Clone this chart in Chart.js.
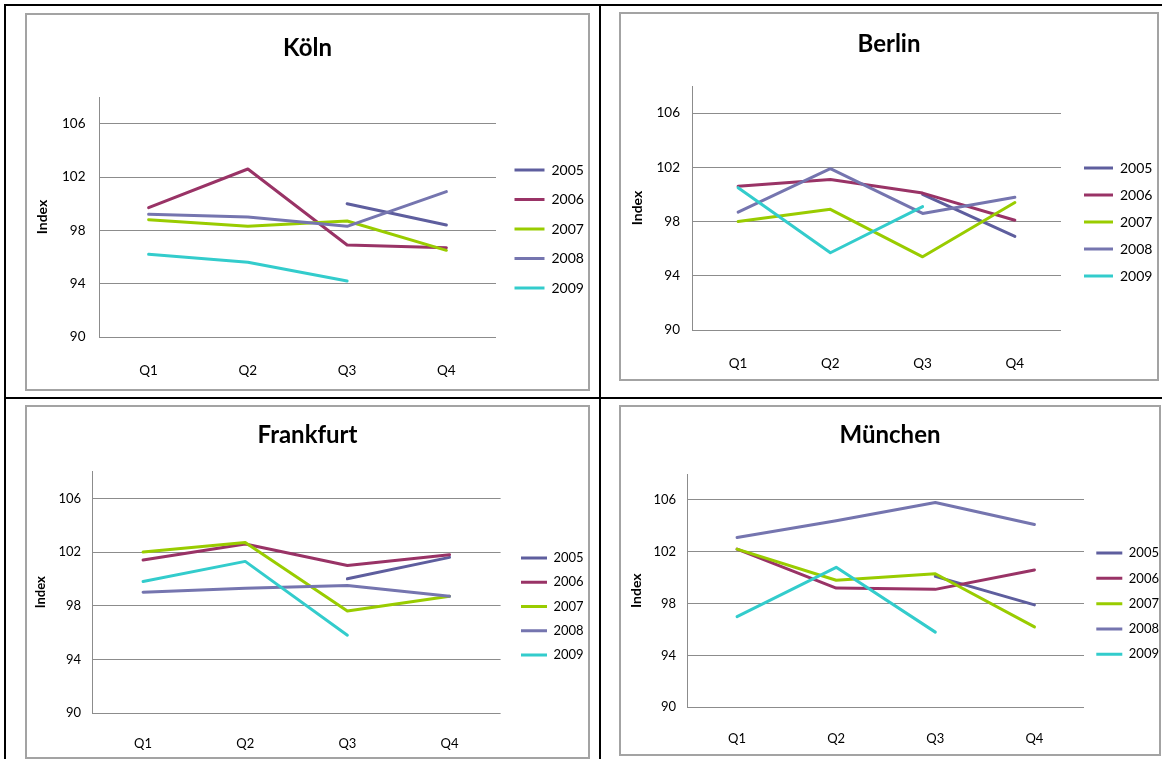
<!DOCTYPE html>
<html lang="de">
<head>
<meta charset="utf-8">
<title>Mietindex nach Quartalen</title>
<script src="https://cdn.jsdelivr.net/npm/chart.js@4.4.1/dist/chart.umd.min.js"></script>
<style>
  html, body { margin: 0; padding: 0; background: #fff; }
  body { width: 1162px; height: 759px; position: relative; overflow: hidden; font-family: Lato, "Open Sans", sans-serif; }
  .rule { position: absolute; background: #000; }
  .box { position: absolute; box-sizing: border-box; border: 2px solid #a3a3a3; background: #fff; }
  .box canvas { display: block; }
</style>
</head>
<body>
<div class="rule" style="left:4px;top:4px;width:1158px;height:2px"></div>
<div class="rule" style="left:4px;top:4px;width:2px;height:755px"></div>
<div class="rule" style="left:599px;top:4px;width:2px;height:755px"></div>
<div class="rule" style="left:4px;top:397px;width:1158px;height:2px"></div>

<div class="box" id="b0" style="left:25px;top:13px;width:565px;height:378px"><canvas id="c0"></canvas></div>
<div class="box" id="b1" style="left:619px;top:12px;width:540px;height:369px"><canvas id="c1"></canvas></div>
<div class="box" id="b2" style="left:25px;top:405px;width:565px;height:354px"><canvas id="c2"></canvas></div>
<div class="box" id="b3" style="left:619px;top:405px;width:542px;height:351px"><canvas id="c3"></canvas></div>

<script>
// Categories and series
const quarters = ['Q1', 'Q2', 'Q3', 'Q4'];
const years = ['2005', '2006', '2007', '2008', '2009'];
const cities = ['Köln', 'Berlin', 'Frankfurt', 'München'];
const yTicks = [90, 94, 98, 102, 106];
const yMin = 90;
const yMax = 108;

// Köln
const koeln2005 = [null, null, 100.0, 98.4];
const koeln2006 = [99.7, 102.6, 96.9, 96.7];
const koeln2007 = [98.8, 98.3, 98.7, 96.5];
const koeln2008 = [99.2, 99.0, 98.3, 100.9];
const koeln2009 = [96.2, 95.6, 94.2, null];

// Berlin
const berlin2005 = [null, null, 100.0, 96.9];
const berlin2006 = [100.6, 101.1, 100.1, 98.1];
const berlin2007 = [98.0, 98.9, 95.4, 99.4];
const berlin2008 = [98.7, 101.9, 98.6, 99.8];
const berlin2009 = [100.5, 95.7, 99.1, null];

// Frankfurt
const frankfurt2005 = [null, null, 100.0, 101.6];
const frankfurt2006 = [101.4, 102.6, 101.0, 101.8];
const frankfurt2007 = [102.0, 102.7, 97.6, 98.7];
const frankfurt2008 = [99.0, 99.3, 99.5, 98.7];
const frankfurt2009 = [99.8, 101.3, 95.8, null];

// München
const muenchen2005 = [null, null, 100.1, 97.9];
const muenchen2006 = [102.2, 99.2, 99.1, 100.6];
const muenchen2007 = [102.2, 99.8, 100.3, 96.2];
const muenchen2008 = [103.1, 104.4, 105.8, 104.1];
const muenchen2009 = [97.0, 100.8, 95.8, null];

const citySeries = [
  [koeln2005, koeln2006, koeln2007, koeln2008, koeln2009],
  [berlin2005, berlin2006, berlin2007, berlin2008, berlin2009],
  [frankfurt2005, frankfurt2006, frankfurt2007, frankfurt2008, frankfurt2009],
  [muenchen2005, muenchen2006, muenchen2007, muenchen2008, muenchen2009]
];

// Styling
const seriesColors = ['#5E5E9E', '#993366', '#99CC00', '#7575AF', '#33CCCC'];
const gridColor = '#8c8c8c';
Chart.defaults.font.family = 'Lato, "Open Sans", sans-serif';
Chart.defaults.color = '#000';

// Per-panel layout (pixels inside each chart frame)
const panelLayout = [
  { w: 561, h: 374, titleSize: 24, titleTop: 18.6, titleBottom: 34.6, tickSize: 13.5, xPad: 17.9, xHeight: 52,
    yWidth: 72, yPad: 13.5, yTitleSize: 14, yTitlePad: 6.6, legendSize: 14, legendPad: 15.5, boxWidth: 30,
    legendWidth: 89, gap: 3, legendShift: 24 },
  { w: 536, h: 365, titleSize: 24, titleTop: 15.9, titleBottom: 27.3, tickSize: 13.5, xPad: 17.9, xHeight: 49,
    yWidth: 71, yPad: 12, yTitleSize: 14, yTitlePad: 7.6, legendSize: 14, legendPad: 13, boxWidth: 29,
    legendWidth: 86, gap: 10, legendShift: 28 },
  { w: 561, h: 350, titleSize: 24, titleTop: 14.3, titleBottom: 21.4, tickSize: 13, xPad: 14.9, xHeight: 44,
    yWidth: 65, yPad: 11, yTitleSize: 13, yTitlePad: 6.2, legendSize: 13, legendPad: 11.25, boxWidth: 26,
    legendWidth: 78.25, gap: 9.15, legendShift: 28.5 },
  { w: 538, h: 347, titleSize: 24, titleTop: 14.3, titleBottom: 23.9, tickSize: 13, xPad: 15.6, xHeight: 46.7,
    yWidth: 66.5, yPad: 11.5, yTitleSize: 14, yTitlePad: 6.6, legendSize: 13, legendPad: 12.3, boxWidth: 26,
    legendWidth: 75, gap: 0, legendShift: 26 }
];

function buildChart(index) {
  const L = panelLayout[index];
  const canvas = document.getElementById('c' + index);
  canvas.parentNode.style.overflow = 'hidden';
  const holder = document.createElement('div');
  holder.style.position = 'relative';
  holder.style.width = L.w + 'px';
  holder.style.height = L.h + 'px';
  canvas.parentNode.insertBefore(holder, canvas);
  holder.appendChild(canvas);

  const datasets = years.map((year, i) => ({
    label: year,
    data: citySeries[index][i],
    borderColor: seriesColors[i],
    backgroundColor: seriesColors[i],
    borderWidth: 3,
    pointRadius: 0,
    pointHoverRadius: 0,
    tension: 0,
    fill: false,
    spanGaps: false,
    borderCapStyle: 'round',
    borderJoinStyle: 'round',
    order: years.length - 1 - i
  }));

  return new Chart(canvas, {
    type: 'line',
    data: { labels: quarters, datasets },
    options: {
      responsive: true,
      maintainAspectRatio: false,
      animation: false,
      events: [],
      layout: { padding: 0 },
      plugins: {
        title: {
          display: true,
          text: cities[index],
          color: '#000',
          font: { size: L.titleSize, weight: 'bold' },
          padding: { top: L.titleTop, bottom: L.titleBottom }
        },
        legend: {
          position: 'right',
          align: 'center',
          fullSize: false,
          maxWidth: L.legendWidth,
          title: {
            display: true,
            text: '',
            font: { size: 10, lineHeight: 1 },
            padding: { top: L.legendShift - 10, bottom: 0 }
          },
          labels: {
            boxWidth: L.boxWidth,
            boxHeight: 3,
            padding: L.legendPad,
            color: '#000',
            font: { size: L.legendSize },
            sort: (a, b) => a.datasetIndex - b.datasetIndex,
            generateLabels: (chart) =>
              Chart.defaults.plugins.legend.labels.generateLabels(chart)
                .map((item) => Object.assign(item, { lineWidth: 0 }))
          }
        },
        tooltip: { enabled: false }
      },
      scales: {
        x: {
          type: 'category',
          offset: true,
          grid: { display: false },
          border: { display: false },
          ticks: { color: '#000', font: { size: L.tickSize }, padding: L.xPad, maxRotation: 0, autoSkip: false },
          afterFit: (scale) => { scale.height = L.xHeight; }
        },
        y: {
          position: 'left',
          min: yMin,
          max: yMax,
          afterBuildTicks: (scale) => { scale.ticks = yTicks.map((v) => ({ value: v })); },
          grid: { color: gridColor, lineWidth: 1, drawTicks: false },
          border: { display: true, color: gridColor, width: 1 },
          ticks: { color: '#000', font: { size: L.tickSize }, padding: L.yPad },
          title: {
            display: true,
            text: 'Index',
            color: '#000',
            font: { size: L.yTitleSize, weight: 'bold' },
            padding: { top: L.yTitlePad, bottom: 0 }
          },
          afterFit: (scale) => { scale.width = L.yWidth; }
        },
        gap: {
          type: 'linear',
          position: 'right',
          display: true,
          grid: { display: false },
          border: { display: false },
          ticks: { display: false },
          afterFit: (scale) => { scale.width = L.gap; }
        }
      }
    }
  });
}

cities.forEach((_, i) => buildChart(i));
</script>
</body>
</html>
